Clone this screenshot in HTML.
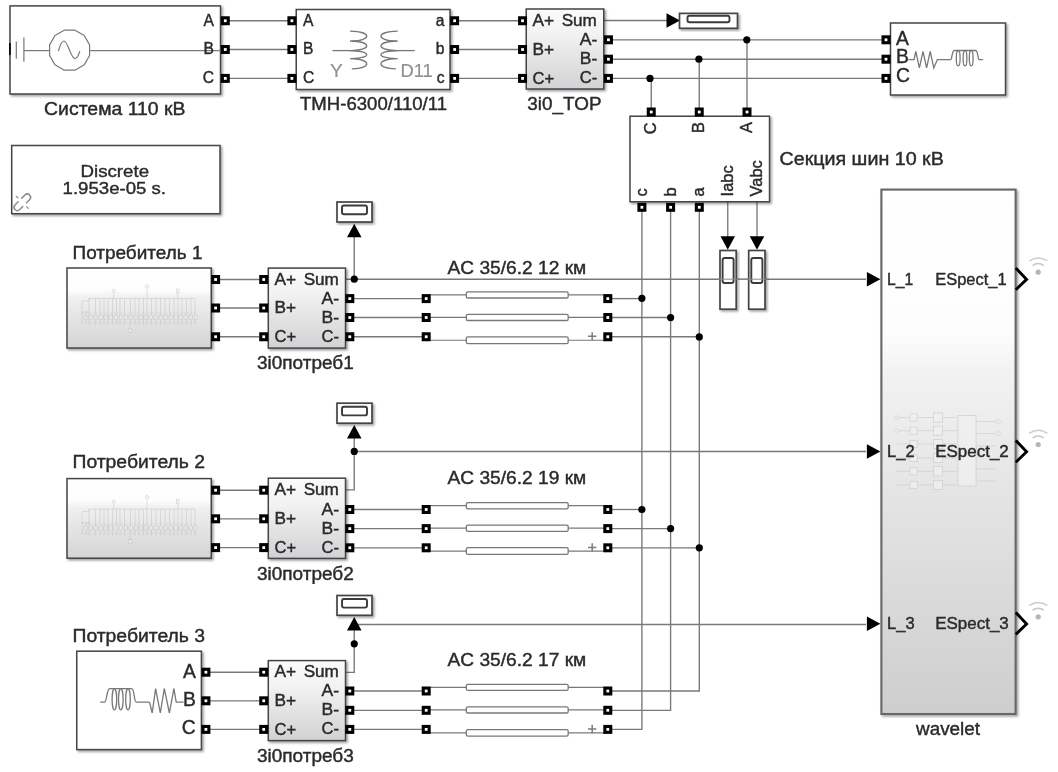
<!DOCTYPE html>
<html><head><meta charset="utf-8"><title>model</title>
<style>
html,body{margin:0;padding:0;background:#fff;}
svg{display:block;font-family:"Liberation Sans",sans-serif;}
</style></head><body>
<svg width="1058" height="772" viewBox="0 0 1058 772">
<defs>
<filter id="sh" x="-10%" y="-10%" width="130%" height="130%"><feDropShadow dx="1.6" dy="1.6" stdDeviation="1.3" flood-color="#000" flood-opacity="0.38"/></filter>
<linearGradient id="gsub" x1="0" y1="0" x2="0" y2="1"><stop offset="0" stop-color="#ffffff"/><stop offset="0.28" stop-color="#fdfdfd"/><stop offset="0.36" stop-color="#f0f0f0"/><stop offset="1" stop-color="#d4d4d4"/></linearGradient>
<linearGradient id="g3i0" x1="0" y1="0" x2="0" y2="1"><stop offset="0" stop-color="#fbfbfb"/><stop offset="0.3" stop-color="#f3f3f3"/><stop offset="1" stop-color="#d2d2d4"/></linearGradient>
<linearGradient id="gwav" x1="0" y1="0" x2="0" y2="1"><stop offset="0" stop-color="#ffffff"/><stop offset="0.27" stop-color="#fdfdfd"/><stop offset="0.35" stop-color="#f2f2f2"/><stop offset="0.62" stop-color="#e2e2e3"/><stop offset="1" stop-color="#cecece"/></linearGradient>
<filter id="soft" x="0" y="0" width="1058" height="772" filterUnits="userSpaceOnUse"><feGaussianBlur stdDeviation="0.42"/></filter>
</defs>
<rect width="1058" height="772" fill="#fff"/>
<g filter="url(#soft)">
<polyline points="229.00,20.75 288.00,20.75" fill="none" stroke="#787878" stroke-width="1.35"/>
<polyline points="459.00,20.75 518.00,20.75" fill="none" stroke="#787878" stroke-width="1.35"/>
<polyline points="229.00,49.50 288.00,49.50" fill="none" stroke="#787878" stroke-width="1.35"/>
<polyline points="459.00,49.50 518.00,49.50" fill="none" stroke="#787878" stroke-width="1.35"/>
<polyline points="229.00,78.40 288.00,78.40" fill="none" stroke="#787878" stroke-width="1.35"/>
<polyline points="459.00,78.40 518.00,78.40" fill="none" stroke="#787878" stroke-width="1.35"/>
<polyline points="604.00,20.50 668.00,20.50" fill="none" stroke="#787878" stroke-width="1.35"/>
<polyline points="612.00,39.80 882.00,39.80" fill="none" stroke="#787878" stroke-width="1.35"/>
<polyline points="612.00,59.20 882.00,59.20" fill="none" stroke="#787878" stroke-width="1.35"/>
<polyline points="612.00,78.40 882.00,78.40" fill="none" stroke="#787878" stroke-width="1.35"/>
<polyline points="651.25,78.40 651.25,108.00" fill="none" stroke="#787878" stroke-width="1.35"/>
<polyline points="699.25,59.20 699.25,108.00" fill="none" stroke="#787878" stroke-width="1.35"/>
<polyline points="747.00,39.80 747.00,108.00" fill="none" stroke="#787878" stroke-width="1.35"/>
<polyline points="641.90,211.00 641.90,729.40 612.00,729.40" fill="none" stroke="#787878" stroke-width="1.35"/>
<polyline points="670.60,211.00 670.60,710.30 612.00,710.30" fill="none" stroke="#787878" stroke-width="1.35"/>
<polyline points="699.30,211.00 699.30,691.00 612.00,691.00" fill="none" stroke="#787878" stroke-width="1.35"/>
<polyline points="727.75,202.00 727.75,238.00" fill="none" stroke="#787878" stroke-width="1.35"/>
<polyline points="757.00,202.00 757.00,238.00" fill="none" stroke="#787878" stroke-width="1.35"/>
<!-- wires done partially; rest below -->
<rect x="10" y="5.9" width="210.50" height="88.10" fill="#fff" stroke="#444448" stroke-width="1.5" filter="url(#sh)"/>
<rect x="9.0" y="43" width="1.9" height="12" fill="#111"/>
<polyline points="16.30,41.40 16.30,58.80" fill="none" stroke="#787878" stroke-width="1.2"/>
<polyline points="23.90,37.40 23.90,61.80" fill="none" stroke="#787878" stroke-width="1.2"/>
<polyline points="23.90,50.60 49.00,50.60" fill="none" stroke="#787878" stroke-width="1.2"/>
<polygon points="89.59,55.56 84.24,64.84 74.96,70.19 64.24,70.19 54.96,64.84 49.61,55.56 49.61,44.84 54.96,35.56 64.24,30.21 74.96,30.21 84.24,35.56 89.59,44.84" fill="none" stroke="#787878" stroke-width="1.2" stroke-linejoin="round"/>
<path d="M58.4,51 C60.2,44.5 62,41 63.9,41 C68,41 70.6,58.6 75,58.6 C77.3,58.6 78.7,55 79.8,51.2" fill="none" stroke="#787878" stroke-width="1.2"/>
<polyline points="90.20,50.60 221.00,50.60" fill="none" stroke="#787878" stroke-width="1.2"/>
<text x="214" y="25.5" font-size="15.6" text-anchor="end" fill="#2a2a2a" stroke="#2a2a2a" stroke-width="0.4">A</text>
<text x="214" y="53.9" font-size="15.6" text-anchor="end" fill="#2a2a2a" stroke="#2a2a2a" stroke-width="0.4">B</text>
<text x="214" y="82.6" font-size="15.6" text-anchor="end" fill="#2a2a2a" stroke="#2a2a2a" stroke-width="0.4">C</text>
<rect x="220.80" y="16.25" width="9" height="9" fill="#000"/><rect x="223.90" y="19.35" width="2.8" height="2.8" fill="#fff"/>
<rect x="220.80" y="45.00" width="9" height="9" fill="#000"/><rect x="223.90" y="48.10" width="2.8" height="2.8" fill="#fff"/>
<rect x="220.80" y="73.90" width="9" height="9" fill="#000"/><rect x="223.90" y="77.00" width="2.8" height="2.8" fill="#fff"/>
<text x="44.1" y="114.7" font-size="17.6" text-anchor="start" fill="#2a2a2a" stroke="#2a2a2a" stroke-width="0.4" textLength="141.4" lengthAdjust="spacingAndGlyphs">Система 110 кВ</text>
<rect x="296.25" y="9.5" width="153.75" height="80.00" fill="#fff" stroke="#444448" stroke-width="1.5" filter="url(#sh)"/>
<text x="303" y="25.5" font-size="15.6" text-anchor="start" fill="#2a2a2a" stroke="#2a2a2a" stroke-width="0.4">A</text>
<text x="303" y="54" font-size="15.6" text-anchor="start" fill="#2a2a2a" stroke="#2a2a2a" stroke-width="0.4">B</text>
<text x="303" y="82.6" font-size="15.6" text-anchor="start" fill="#2a2a2a" stroke="#2a2a2a" stroke-width="0.4">C</text>
<text x="444.5" y="25.5" font-size="15.6" text-anchor="end" fill="#2a2a2a" stroke="#2a2a2a" stroke-width="0.4">a</text>
<text x="444.5" y="54" font-size="15.6" text-anchor="end" fill="#2a2a2a" stroke="#2a2a2a" stroke-width="0.4">b</text>
<text x="444.5" y="82.6" font-size="15.6" text-anchor="end" fill="#2a2a2a" stroke="#2a2a2a" stroke-width="0.4">c</text>
<rect x="287.40" y="16.25" width="9" height="9" fill="#000"/><rect x="290.50" y="19.35" width="2.8" height="2.8" fill="#fff"/>
<rect x="450.10" y="16.25" width="9" height="9" fill="#000"/><rect x="453.20" y="19.35" width="2.8" height="2.8" fill="#fff"/>
<rect x="287.40" y="45.00" width="9" height="9" fill="#000"/><rect x="290.50" y="48.10" width="2.8" height="2.8" fill="#fff"/>
<rect x="450.10" y="45.00" width="9" height="9" fill="#000"/><rect x="453.20" y="48.10" width="2.8" height="2.8" fill="#fff"/>
<rect x="287.40" y="73.90" width="9" height="9" fill="#000"/><rect x="290.50" y="77.00" width="2.8" height="2.8" fill="#fff"/>
<rect x="450.10" y="73.90" width="9" height="9" fill="#000"/><rect x="453.20" y="77.00" width="2.8" height="2.8" fill="#fff"/>
<text x="329.9" y="76.9" font-size="19.2" text-anchor="start" fill="#8f8f8f" stroke="#8f8f8f" stroke-width="0.15">Y</text>
<text x="400.6" y="76.9" font-size="18.4" text-anchor="start" fill="#8f8f8f" stroke="#8f8f8f" stroke-width="0.15" textLength="32.2" lengthAdjust="spacingAndGlyphs">D11</text>
<path d="M350.0,31.1 C372.0,31.6 372.0,40.5 351.8,41.0 M350.0,41.0 C372.0,41.5 372.0,50.1 351.8,50.6 M350.0,50.6 C372.0,51.1 372.0,58.1 351.8,58.6 M350.0,58.6 C372.0,59.1 372.0,68.3 351.8,68.8 " fill="none" stroke="#787878" stroke-width="1.3"/>
<path d="M397.7,31.1 C375.7,31.6 375.7,40.5 395.9,41.0 M397.7,41.0 C375.7,41.5 375.7,50.1 395.9,50.6 M397.7,50.6 C375.7,51.1 375.7,58.1 395.9,58.6 M397.7,58.6 C375.7,59.1 375.7,68.3 395.9,68.8 " fill="none" stroke="#787878" stroke-width="1.3"/>
<polyline points="332.50,50.60 358.00,50.60" fill="none" stroke="#787878" stroke-width="1.3"/>
<polyline points="390.00,50.60 414.70,50.60" fill="none" stroke="#787878" stroke-width="1.3"/>
<text x="300" y="110.3" font-size="17.6" text-anchor="start" fill="#2a2a2a" stroke="#2a2a2a" stroke-width="0.4" textLength="147" lengthAdjust="spacingAndGlyphs">ТМН-6300/110/11</text>
<rect x="526.25" y="9" width="77.50" height="80.00" fill="url(#g3i0)" stroke="#444448" stroke-width="1.5" filter="url(#sh)"/>
<rect x="518.05" y="16.25" width="9" height="9" fill="#000"/><rect x="521.15" y="19.35" width="2.8" height="2.8" fill="#fff"/>
<text x="532.45" y="25.95" font-size="15.6" text-anchor="start" fill="#2a2a2a" stroke="#2a2a2a" stroke-width="0.4" textLength="21.6" lengthAdjust="spacingAndGlyphs">A+</text>
<rect x="518.05" y="45.00" width="9" height="9" fill="#000"/><rect x="521.15" y="48.10" width="2.8" height="2.8" fill="#fff"/>
<text x="532.45" y="54.7" font-size="15.6" text-anchor="start" fill="#2a2a2a" stroke="#2a2a2a" stroke-width="0.4" textLength="21.6" lengthAdjust="spacingAndGlyphs">B+</text>
<rect x="518.05" y="73.90" width="9" height="9" fill="#000"/><rect x="521.15" y="77.00" width="2.8" height="2.8" fill="#fff"/>
<text x="532.45" y="83.60000000000001" font-size="15.6" text-anchor="start" fill="#2a2a2a" stroke="#2a2a2a" stroke-width="0.4" textLength="21.6" lengthAdjust="spacingAndGlyphs">C+</text>
<text x="561.65" y="25.95" font-size="15.6" text-anchor="start" fill="#2a2a2a" stroke="#2a2a2a" stroke-width="0.4" textLength="35.2" lengthAdjust="spacingAndGlyphs">Sum</text>
<rect x="603.95" y="35.30" width="9" height="9" fill="#000"/><rect x="607.05" y="38.40" width="2.8" height="2.8" fill="#fff"/>
<text x="597.35" y="44.8" font-size="15.6" text-anchor="end" fill="#2a2a2a" stroke="#2a2a2a" stroke-width="0.4" textLength="17.5" lengthAdjust="spacingAndGlyphs">A-</text>
<rect x="603.95" y="54.70" width="9" height="9" fill="#000"/><rect x="607.05" y="57.80" width="2.8" height="2.8" fill="#fff"/>
<text x="597.35" y="64.2" font-size="15.6" text-anchor="end" fill="#2a2a2a" stroke="#2a2a2a" stroke-width="0.4" textLength="17.5" lengthAdjust="spacingAndGlyphs">B-</text>
<rect x="603.95" y="73.90" width="9" height="9" fill="#000"/><rect x="607.05" y="77.00" width="2.8" height="2.8" fill="#fff"/>
<text x="597.35" y="83.4" font-size="15.6" text-anchor="end" fill="#2a2a2a" stroke="#2a2a2a" stroke-width="0.4" textLength="17.5" lengthAdjust="spacingAndGlyphs">C-</text>
<text x="527.3" y="110.2" font-size="17.6" text-anchor="start" fill="#2a2a2a" stroke="#2a2a2a" stroke-width="0.4" textLength="74.2" lengthAdjust="spacingAndGlyphs">3i0_TOP</text>
<polygon points="680,20.5 666.5,13.25 666.5,27.75" fill="#000"/>
<rect x="679.5" y="13.4" width="58.00" height="14.90" fill="#fff" stroke="#444448" stroke-width="1.7" filter="url(#sh)"/>
<rect x="687.5" y="15.7" width="42.00" height="6.50" rx="2" fill="#fff" stroke="#3a3a3a" stroke-width="1.9"/>
<circle cx="650.00" cy="78.40" r="3.6" fill="#000"/>
<circle cx="698.90" cy="59.20" r="3.6" fill="#000"/>
<circle cx="746.80" cy="39.80" r="3.6" fill="#000"/>
<rect x="890.5" y="23" width="115.00" height="72.00" fill="#fff" stroke="#444448" stroke-width="1.5" filter="url(#sh)"/>
<rect x="881.50" y="35.30" width="9" height="9" fill="#000"/><rect x="884.60" y="38.40" width="2.8" height="2.8" fill="#fff"/>
<rect x="881.50" y="54.70" width="9" height="9" fill="#000"/><rect x="884.60" y="57.80" width="2.8" height="2.8" fill="#fff"/>
<rect x="881.50" y="73.90" width="9" height="9" fill="#000"/><rect x="884.60" y="77.00" width="2.8" height="2.8" fill="#fff"/>
<text x="896.0" y="44.6" font-size="19.3" text-anchor="start" fill="#2a2a2a" stroke="#2a2a2a" stroke-width="0.4">A</text>
<text x="896.0" y="63.2" font-size="19.3" text-anchor="start" fill="#2a2a2a" stroke="#2a2a2a" stroke-width="0.4">B</text>
<text x="896.0" y="82" font-size="19.3" text-anchor="start" fill="#2a2a2a" stroke="#2a2a2a" stroke-width="0.4">C</text>
<polyline points="908.30,59.60 914.00,59.60 915.80,51.30 919.40,67.90 923.00,51.30 926.60,67.90 930.20,51.30 933.80,67.90 937.40,59.60 950.80,59.60" fill="none" stroke="#787878" stroke-width="1.3"/>
<path d="M950.8,59.6 C952,59.6 951.8,50.5 954.5,50.5 L975.5,50.5 C978.2,50.5 977.8,59.6 979,59.6 L983.1,59.6" fill="none" stroke="#787878" stroke-width="1.3"/>
<ellipse cx="958.2" cy="58.2" rx="1.9" ry="7.7" fill="none" stroke="#787878" stroke-width="1.3"/>
<ellipse cx="965" cy="58.2" rx="1.9" ry="7.7" fill="none" stroke="#787878" stroke-width="1.3"/>
<ellipse cx="971.2" cy="58.2" rx="1.9" ry="7.7" fill="none" stroke="#787878" stroke-width="1.3"/>
<rect x="630" y="116.25" width="139.50" height="85.50" fill="#fff" stroke="#444448" stroke-width="1.5" filter="url(#sh)"/>
<rect x="646.75" y="107.50" width="9" height="9" fill="#000"/><rect x="649.85" y="110.60" width="2.8" height="2.8" fill="#fff"/>
<rect x="694.75" y="107.50" width="9" height="9" fill="#000"/><rect x="697.85" y="110.60" width="2.8" height="2.8" fill="#fff"/>
<rect x="742.50" y="107.50" width="9" height="9" fill="#000"/><rect x="745.60" y="110.60" width="2.8" height="2.8" fill="#fff"/>
<rect x="637.40" y="202.80" width="9" height="9" fill="#000"/><rect x="640.50" y="205.90" width="2.8" height="2.8" fill="#fff"/>
<rect x="666.10" y="202.80" width="9" height="9" fill="#000"/><rect x="669.20" y="205.90" width="2.8" height="2.8" fill="#fff"/>
<rect x="694.80" y="202.80" width="9" height="9" fill="#000"/><rect x="697.90" y="205.90" width="2.8" height="2.8" fill="#fff"/>
<text transform="translate(656.4,134.2) rotate(-90)" font-size="16.4" fill="#2a2a2a" stroke="#2a2a2a" stroke-width="0.45">C</text>
<text transform="translate(704.2,133) rotate(-90)" font-size="16.4" fill="#2a2a2a" stroke="#2a2a2a" stroke-width="0.45">B</text>
<text transform="translate(752.2,133) rotate(-90)" font-size="16.4" fill="#2a2a2a" stroke="#2a2a2a" stroke-width="0.45">A</text>
<text transform="translate(646.8,196.5) rotate(-90)" font-size="16.4" fill="#2a2a2a" stroke="#2a2a2a" stroke-width="0.45">c</text>
<text transform="translate(675.6,196.5) rotate(-90)" font-size="16.4" fill="#2a2a2a" stroke="#2a2a2a" stroke-width="0.45">b</text>
<text transform="translate(703.9,196.5) rotate(-90)" font-size="16.4" fill="#2a2a2a" stroke="#2a2a2a" stroke-width="0.45">a</text>
<text transform="translate(732.5,196.4) rotate(-90)" font-size="16.4" fill="#2a2a2a" stroke="#2a2a2a" stroke-width="0.45">Iabc</text>
<text transform="translate(762,196.4) rotate(-90)" font-size="16.4" fill="#2a2a2a" stroke="#2a2a2a" stroke-width="0.45">Vabc</text>
<text x="779.5" y="165.3" font-size="17.6" text-anchor="start" fill="#2a2a2a" stroke="#2a2a2a" stroke-width="0.4" textLength="164.3" lengthAdjust="spacingAndGlyphs">Секция шин 10 кВ</text>
<polygon points="727.75,249.8 720.5,236.3 735.0,236.3" fill="#000"/>
<polygon points="757,249.8 749.75,236.3 764.25,236.3" fill="#000"/>
<rect x="11.7" y="145.5" width="208.30" height="68.20" fill="#fff" stroke="#444448" stroke-width="1.5" filter="url(#sh)"/>
<text x="114.8" y="176.5" font-size="17.4" text-anchor="middle" fill="#2a2a2a" stroke="#2a2a2a" stroke-width="0.4" textLength="68.6" lengthAdjust="spacingAndGlyphs">Discrete</text>
<text x="114.3" y="193.7" font-size="17.4" text-anchor="middle" fill="#2a2a2a" stroke="#2a2a2a" stroke-width="0.4" textLength="103.5" lengthAdjust="spacingAndGlyphs">1.953e-05 s.</text>
<g transform="translate(22.3,202.3) rotate(-45)" fill="none" stroke="#8c8c8c" stroke-width="1.5" stroke-linecap="round"><path d="M-2.6,-3.3 L-7,-3.3 A3.3,3.3 0 0 0 -7,3.3 L-2.6,3.3"/><path d="M2.6,-3.3 L7,-3.3 A3.3,3.3 0 0 1 7,3.3 L2.6,3.3"/><path d="M0,-6.2 L0,-8.6 M0,6.2 L0,8.6" stroke-width="1.2"/></g>
<polyline points="220.00,279.50 259.00,279.50" fill="none" stroke="#787878" stroke-width="1.35"/>
<polyline points="220.00,308.00 259.00,308.00" fill="none" stroke="#787878" stroke-width="1.35"/>
<polyline points="220.00,336.75 259.00,336.75" fill="none" stroke="#787878" stroke-width="1.35"/>
<polyline points="353.00,298.60 422.00,298.60" fill="none" stroke="#787878" stroke-width="1.35"/>
<polyline points="353.00,317.50 422.00,317.50" fill="none" stroke="#787878" stroke-width="1.35"/>
<polyline points="353.00,336.75 422.00,336.75" fill="none" stroke="#787878" stroke-width="1.35"/>
<rect x="67" y="268" width="144.25" height="80.00" fill="url(#gsub)" stroke="#444448" stroke-width="1.5" filter="url(#sh)"/>
<g stroke="#b9b9b9" stroke-width="0.7" fill="none" opacity="0.6" transform="translate(0,0)"><path d="M82,301 H89 V298.5 H195 M82,301 V324 M86,312 V324 M82,312 H90"/><path d="M89,298.5 V325 M95.5,298.5 V325 M100,298.5 V325 M104,298.5 V325 M108,298.5 V325 M112.5,298.5 V325 M116.5,298.5 V325 M120,298.5 V325 M124.5,298.5 V325 M130.5,298.5 V325 M135,298.5 V325 M139,298.5 V325 M143.5,298.5 V325 M147,298.5 V325 M151.5,298.5 V325 M156,298.5 V325 M160.5,298.5 V325 M165,298.5 V325 M169.5,298.5 V325 M174,298.5 V325 M178,298.5 V325 M182,298.5 V325 M186.5,298.5 V325 M191,298.5 V325 M195,298.5 V325 "/><path d="M82,313 H196 M82,322.5 H196" stroke-dasharray="2 1.5" opacity="0.7"/><rect x="84" y="315" width="3.6" height="4.6" rx="1" fill="#e9e9e9"/><rect x="89" y="315" width="3.6" height="4.6" rx="1" fill="#e9e9e9"/><rect x="94" y="315" width="3.6" height="4.6" rx="1" fill="#e9e9e9"/><rect x="99" y="315" width="3.6" height="4.6" rx="1" fill="#e9e9e9"/><rect x="104" y="315" width="3.6" height="4.6" rx="1" fill="#e9e9e9"/><rect x="109" y="315" width="3.6" height="4.6" rx="1" fill="#e9e9e9"/><rect x="114" y="315" width="3.6" height="4.6" rx="1" fill="#e9e9e9"/><rect x="119" y="315" width="3.6" height="4.6" rx="1" fill="#e9e9e9"/><rect x="124" y="315" width="3.6" height="4.6" rx="1" fill="#e9e9e9"/><rect x="129" y="315" width="3.6" height="4.6" rx="1" fill="#e9e9e9"/><rect x="134" y="315" width="3.6" height="4.6" rx="1" fill="#e9e9e9"/><rect x="139" y="315" width="3.6" height="4.6" rx="1" fill="#e9e9e9"/><rect x="144" y="315" width="3.6" height="4.6" rx="1" fill="#e9e9e9"/><rect x="149" y="315" width="3.6" height="4.6" rx="1" fill="#e9e9e9"/><rect x="154" y="315" width="3.6" height="4.6" rx="1" fill="#e9e9e9"/><rect x="159" y="315" width="3.6" height="4.6" rx="1" fill="#e9e9e9"/><rect x="164" y="315" width="3.6" height="4.6" rx="1" fill="#e9e9e9"/><rect x="169" y="315" width="3.6" height="4.6" rx="1" fill="#e9e9e9"/><rect x="174" y="315" width="3.6" height="4.6" rx="1" fill="#e9e9e9"/><rect x="179" y="315" width="3.6" height="4.6" rx="1" fill="#e9e9e9"/><rect x="184" y="315" width="3.6" height="4.6" rx="1" fill="#e9e9e9"/><rect x="189" y="315" width="3.6" height="4.6" rx="1" fill="#e9e9e9"/><rect x="194" y="315" width="3.6" height="4.6" rx="1" fill="#e9e9e9"/><path d="M113.7,293 V298.5 M147,289 V298.5 M177.8,293 V298.5 M130,325 V329"/><circle cx="113.7" cy="291" r="1.7" fill="#f4f4f4"/><circle cx="147" cy="286.6" r="1.7" fill="#f4f4f4"/><rect x="176.6" y="289" width="2.4" height="4" fill="#f4f4f4"/><rect x="128.2" y="329" width="3.6" height="3.4" fill="#fafafa"/></g>
<rect x="211.10" y="275.00" width="9" height="9" fill="#000"/><rect x="214.20" y="278.10" width="2.8" height="2.8" fill="#fff"/>
<rect x="211.10" y="303.50" width="9" height="9" fill="#000"/><rect x="214.20" y="306.60" width="2.8" height="2.8" fill="#fff"/>
<rect x="211.10" y="332.25" width="9" height="9" fill="#000"/><rect x="214.20" y="335.35" width="2.8" height="2.8" fill="#fff"/>
<text x="72.5" y="258.8" font-size="17.6" text-anchor="start" fill="#2a2a2a" stroke="#2a2a2a" stroke-width="0.4" textLength="130" lengthAdjust="spacingAndGlyphs">Потребитель 1</text>
<polyline points="346.00,279.20 866.00,279.20" fill="none" stroke="#787878" stroke-width="1.35"/>
<polyline points="354.25,279.20 354.25,236.00" fill="none" stroke="#787878" stroke-width="1.35"/>
<rect x="268.3" y="268.1" width="77.20" height="80.00" fill="url(#g3i0)" stroke="#444448" stroke-width="1.5" filter="url(#sh)"/>
<rect x="259.20" y="275.00" width="9" height="9" fill="#000"/><rect x="262.30" y="278.10" width="2.8" height="2.8" fill="#fff"/>
<text x="274.5" y="284.7" font-size="15.6" text-anchor="start" fill="#2a2a2a" stroke="#2a2a2a" stroke-width="0.4" textLength="21.6" lengthAdjust="spacingAndGlyphs">A+</text>
<rect x="259.20" y="303.50" width="9" height="9" fill="#000"/><rect x="262.30" y="306.60" width="2.8" height="2.8" fill="#fff"/>
<text x="274.5" y="313.2" font-size="15.6" text-anchor="start" fill="#2a2a2a" stroke="#2a2a2a" stroke-width="0.4" textLength="21.6" lengthAdjust="spacingAndGlyphs">B+</text>
<rect x="259.20" y="332.25" width="9" height="9" fill="#000"/><rect x="262.30" y="335.35" width="2.8" height="2.8" fill="#fff"/>
<text x="274.5" y="341.95" font-size="15.6" text-anchor="start" fill="#2a2a2a" stroke="#2a2a2a" stroke-width="0.4" textLength="21.6" lengthAdjust="spacingAndGlyphs">C+</text>
<text x="303.7" y="284.7" font-size="15.6" text-anchor="start" fill="#2a2a2a" stroke="#2a2a2a" stroke-width="0.4" textLength="35.2" lengthAdjust="spacingAndGlyphs">Sum</text>
<rect x="345.30" y="294.10" width="9" height="9" fill="#000"/><rect x="348.40" y="297.20" width="2.8" height="2.8" fill="#fff"/>
<text x="339.1" y="303.6" font-size="15.6" text-anchor="end" fill="#2a2a2a" stroke="#2a2a2a" stroke-width="0.4" textLength="17.5" lengthAdjust="spacingAndGlyphs">A-</text>
<rect x="345.30" y="313.00" width="9" height="9" fill="#000"/><rect x="348.40" y="316.10" width="2.8" height="2.8" fill="#fff"/>
<text x="339.1" y="322.5" font-size="15.6" text-anchor="end" fill="#2a2a2a" stroke="#2a2a2a" stroke-width="0.4" textLength="17.5" lengthAdjust="spacingAndGlyphs">B-</text>
<rect x="345.30" y="332.25" width="9" height="9" fill="#000"/><rect x="348.40" y="335.35" width="2.8" height="2.8" fill="#fff"/>
<text x="339.1" y="341.75" font-size="15.6" text-anchor="end" fill="#2a2a2a" stroke="#2a2a2a" stroke-width="0.4" textLength="17.5" lengthAdjust="spacingAndGlyphs">C-</text>
<text x="257" y="368.8" font-size="17.6" text-anchor="start" fill="#2a2a2a" stroke="#2a2a2a" stroke-width="0.4" textLength="96.75" lengthAdjust="spacingAndGlyphs">3i0потреб1</text>
<circle cx="354.25" cy="279.20" r="3.6" fill="#000"/>
<polygon points="354.25,223.7 347.0,237.2 361.5,237.2" fill="#000"/>
<rect x="337" y="202" width="35.00" height="20.00" fill="#fff" stroke="#444448" stroke-width="1.7" filter="url(#sh)"/>
<rect x="342" y="205.5" width="25.00" height="8.70" rx="2" fill="#fff" stroke="#3a3a3a" stroke-width="1.9"/>
<polyline points="612.00,298.60 641.90,298.60" fill="none" stroke="#787878" stroke-width="1.35"/>
<polyline points="612.00,317.50 670.60,317.50" fill="none" stroke="#787878" stroke-width="1.35"/>
<polyline points="612.00,336.75 699.30,336.75" fill="none" stroke="#787878" stroke-width="1.35"/>
<polyline points="430.00,294.90 466.30,294.90" fill="none" stroke="#787878" stroke-width="1.2"/>
<polyline points="568.20,294.90 604.00,294.90" fill="none" stroke="#787878" stroke-width="1.2"/>
<rect x="466.3" y="291.8" width="101.9" height="6.20" rx="1.6" fill="#fff" stroke="#787878" stroke-width="1.3"/>
<rect x="421.70" y="294.10" width="9" height="9" fill="#000"/><rect x="424.80" y="297.20" width="2.8" height="2.8" fill="#fff"/>
<rect x="603.30" y="294.10" width="9" height="9" fill="#000"/><rect x="606.40" y="297.20" width="2.8" height="2.8" fill="#fff"/>
<polyline points="430.00,317.40 466.30,317.40" fill="none" stroke="#787878" stroke-width="1.2"/>
<polyline points="568.20,317.40 604.00,317.40" fill="none" stroke="#787878" stroke-width="1.2"/>
<rect x="466.3" y="314.3" width="101.9" height="6.20" rx="1.6" fill="#fff" stroke="#787878" stroke-width="1.3"/>
<rect x="421.70" y="313.00" width="9" height="9" fill="#000"/><rect x="424.80" y="316.10" width="2.8" height="2.8" fill="#fff"/>
<rect x="603.30" y="313.00" width="9" height="9" fill="#000"/><rect x="606.40" y="316.10" width="2.8" height="2.8" fill="#fff"/>
<polyline points="430.00,340.25 466.30,340.25" fill="none" stroke="#787878" stroke-width="1.2"/>
<polyline points="568.20,340.25 604.00,340.25" fill="none" stroke="#787878" stroke-width="1.2"/>
<rect x="466.3" y="336.9" width="101.9" height="6.70" rx="1.6" fill="#fff" stroke="#787878" stroke-width="1.3"/>
<rect x="421.70" y="332.25" width="9" height="9" fill="#000"/><rect x="424.80" y="335.35" width="2.8" height="2.8" fill="#fff"/>
<rect x="603.30" y="332.25" width="9" height="9" fill="#000"/><rect x="606.40" y="335.35" width="2.8" height="2.8" fill="#fff"/>
<path d="M588.0,336.35 H596.4 M592.2,332.15 V340.55" stroke="#7c7c7c" stroke-width="1.5" fill="none"/>
<text x="447.5" y="274.0" font-size="17.6" text-anchor="start" fill="#2a2a2a" stroke="#2a2a2a" stroke-width="0.4" textLength="138.75" lengthAdjust="spacingAndGlyphs">AC 35/6.2 12 км</text>
<circle cx="641.90" cy="298.30" r="3.6" fill="#000"/>
<circle cx="670.60" cy="317.60" r="3.6" fill="#000"/>
<circle cx="699.30" cy="336.90" r="3.6" fill="#000"/>
<polyline points="220.00,490.20 259.00,490.20" fill="none" stroke="#787878" stroke-width="1.35"/>
<polyline points="220.00,518.80 259.00,518.80" fill="none" stroke="#787878" stroke-width="1.35"/>
<polyline points="220.00,547.60 259.00,547.60" fill="none" stroke="#787878" stroke-width="1.35"/>
<polyline points="353.00,509.50 422.00,509.50" fill="none" stroke="#787878" stroke-width="1.35"/>
<polyline points="353.00,528.60 422.00,528.60" fill="none" stroke="#787878" stroke-width="1.35"/>
<polyline points="353.00,547.80 422.00,547.80" fill="none" stroke="#787878" stroke-width="1.35"/>
<rect x="67" y="478.6" width="144.25" height="79.60" fill="url(#gsub)" stroke="#444448" stroke-width="1.5" filter="url(#sh)"/>
<g stroke="#b9b9b9" stroke-width="0.7" fill="none" opacity="0.6" transform="translate(0,210.60000000000002)"><path d="M82,301 H89 V298.5 H195 M82,301 V324 M86,312 V324 M82,312 H90"/><path d="M89,298.5 V325 M95.5,298.5 V325 M100,298.5 V325 M104,298.5 V325 M108,298.5 V325 M112.5,298.5 V325 M116.5,298.5 V325 M120,298.5 V325 M124.5,298.5 V325 M130.5,298.5 V325 M135,298.5 V325 M139,298.5 V325 M143.5,298.5 V325 M147,298.5 V325 M151.5,298.5 V325 M156,298.5 V325 M160.5,298.5 V325 M165,298.5 V325 M169.5,298.5 V325 M174,298.5 V325 M178,298.5 V325 M182,298.5 V325 M186.5,298.5 V325 M191,298.5 V325 M195,298.5 V325 "/><path d="M82,313 H196 M82,322.5 H196" stroke-dasharray="2 1.5" opacity="0.7"/><rect x="84" y="315" width="3.6" height="4.6" rx="1" fill="#e9e9e9"/><rect x="89" y="315" width="3.6" height="4.6" rx="1" fill="#e9e9e9"/><rect x="94" y="315" width="3.6" height="4.6" rx="1" fill="#e9e9e9"/><rect x="99" y="315" width="3.6" height="4.6" rx="1" fill="#e9e9e9"/><rect x="104" y="315" width="3.6" height="4.6" rx="1" fill="#e9e9e9"/><rect x="109" y="315" width="3.6" height="4.6" rx="1" fill="#e9e9e9"/><rect x="114" y="315" width="3.6" height="4.6" rx="1" fill="#e9e9e9"/><rect x="119" y="315" width="3.6" height="4.6" rx="1" fill="#e9e9e9"/><rect x="124" y="315" width="3.6" height="4.6" rx="1" fill="#e9e9e9"/><rect x="129" y="315" width="3.6" height="4.6" rx="1" fill="#e9e9e9"/><rect x="134" y="315" width="3.6" height="4.6" rx="1" fill="#e9e9e9"/><rect x="139" y="315" width="3.6" height="4.6" rx="1" fill="#e9e9e9"/><rect x="144" y="315" width="3.6" height="4.6" rx="1" fill="#e9e9e9"/><rect x="149" y="315" width="3.6" height="4.6" rx="1" fill="#e9e9e9"/><rect x="154" y="315" width="3.6" height="4.6" rx="1" fill="#e9e9e9"/><rect x="159" y="315" width="3.6" height="4.6" rx="1" fill="#e9e9e9"/><rect x="164" y="315" width="3.6" height="4.6" rx="1" fill="#e9e9e9"/><rect x="169" y="315" width="3.6" height="4.6" rx="1" fill="#e9e9e9"/><rect x="174" y="315" width="3.6" height="4.6" rx="1" fill="#e9e9e9"/><rect x="179" y="315" width="3.6" height="4.6" rx="1" fill="#e9e9e9"/><rect x="184" y="315" width="3.6" height="4.6" rx="1" fill="#e9e9e9"/><rect x="189" y="315" width="3.6" height="4.6" rx="1" fill="#e9e9e9"/><rect x="194" y="315" width="3.6" height="4.6" rx="1" fill="#e9e9e9"/><path d="M113.7,293 V298.5 M147,289 V298.5 M177.8,293 V298.5 M130,325 V329"/><circle cx="113.7" cy="291" r="1.7" fill="#f4f4f4"/><circle cx="147" cy="286.6" r="1.7" fill="#f4f4f4"/><rect x="176.6" y="289" width="2.4" height="4" fill="#f4f4f4"/><rect x="128.2" y="329" width="3.6" height="3.4" fill="#fafafa"/></g>
<rect x="211.10" y="485.70" width="9" height="9" fill="#000"/><rect x="214.20" y="488.80" width="2.8" height="2.8" fill="#fff"/>
<rect x="211.10" y="514.30" width="9" height="9" fill="#000"/><rect x="214.20" y="517.40" width="2.8" height="2.8" fill="#fff"/>
<rect x="211.10" y="543.10" width="9" height="9" fill="#000"/><rect x="214.20" y="546.20" width="2.8" height="2.8" fill="#fff"/>
<text x="72.5" y="468.3" font-size="17.6" text-anchor="start" fill="#2a2a2a" stroke="#2a2a2a" stroke-width="0.4" textLength="132.5" lengthAdjust="spacingAndGlyphs">Потребитель 2</text>
<polyline points="346.00,489.80 354.25,489.80 354.25,437.00" fill="none" stroke="#787878" stroke-width="1.35"/>
<polyline points="354.25,451.50 866.00,451.50" fill="none" stroke="#787878" stroke-width="1.35"/>
<rect x="268.3" y="478.2" width="77.20" height="80.20" fill="url(#g3i0)" stroke="#444448" stroke-width="1.5" filter="url(#sh)"/>
<rect x="259.20" y="485.70" width="9" height="9" fill="#000"/><rect x="262.30" y="488.80" width="2.8" height="2.8" fill="#fff"/>
<text x="274.5" y="495.4" font-size="15.6" text-anchor="start" fill="#2a2a2a" stroke="#2a2a2a" stroke-width="0.4" textLength="21.6" lengthAdjust="spacingAndGlyphs">A+</text>
<rect x="259.20" y="514.30" width="9" height="9" fill="#000"/><rect x="262.30" y="517.40" width="2.8" height="2.8" fill="#fff"/>
<text x="274.5" y="524.0" font-size="15.6" text-anchor="start" fill="#2a2a2a" stroke="#2a2a2a" stroke-width="0.4" textLength="21.6" lengthAdjust="spacingAndGlyphs">B+</text>
<rect x="259.20" y="543.10" width="9" height="9" fill="#000"/><rect x="262.30" y="546.20" width="2.8" height="2.8" fill="#fff"/>
<text x="274.5" y="552.8000000000001" font-size="15.6" text-anchor="start" fill="#2a2a2a" stroke="#2a2a2a" stroke-width="0.4" textLength="21.6" lengthAdjust="spacingAndGlyphs">C+</text>
<text x="303.7" y="495.4" font-size="15.6" text-anchor="start" fill="#2a2a2a" stroke="#2a2a2a" stroke-width="0.4" textLength="35.2" lengthAdjust="spacingAndGlyphs">Sum</text>
<rect x="345.30" y="505.00" width="9" height="9" fill="#000"/><rect x="348.40" y="508.10" width="2.8" height="2.8" fill="#fff"/>
<text x="339.1" y="514.5" font-size="15.6" text-anchor="end" fill="#2a2a2a" stroke="#2a2a2a" stroke-width="0.4" textLength="17.5" lengthAdjust="spacingAndGlyphs">A-</text>
<rect x="345.30" y="524.10" width="9" height="9" fill="#000"/><rect x="348.40" y="527.20" width="2.8" height="2.8" fill="#fff"/>
<text x="339.1" y="533.6" font-size="15.6" text-anchor="end" fill="#2a2a2a" stroke="#2a2a2a" stroke-width="0.4" textLength="17.5" lengthAdjust="spacingAndGlyphs">B-</text>
<rect x="345.30" y="543.30" width="9" height="9" fill="#000"/><rect x="348.40" y="546.40" width="2.8" height="2.8" fill="#fff"/>
<text x="339.1" y="552.8" font-size="15.6" text-anchor="end" fill="#2a2a2a" stroke="#2a2a2a" stroke-width="0.4" textLength="17.5" lengthAdjust="spacingAndGlyphs">C-</text>
<text x="257" y="579.6" font-size="17.6" text-anchor="start" fill="#2a2a2a" stroke="#2a2a2a" stroke-width="0.4" textLength="96.75" lengthAdjust="spacingAndGlyphs">3i0потреб2</text>
<circle cx="354.25" cy="451.40" r="3.6" fill="#000"/>
<polygon points="354.25,425 347.0,438.5 361.5,438.5" fill="#000"/>
<rect x="337" y="403.2" width="35.00" height="20.00" fill="#fff" stroke="#444448" stroke-width="1.7" filter="url(#sh)"/>
<rect x="342" y="406.7" width="25.00" height="8.70" rx="2" fill="#fff" stroke="#3a3a3a" stroke-width="1.9"/>
<polyline points="612.00,509.50 641.90,509.50" fill="none" stroke="#787878" stroke-width="1.35"/>
<polyline points="612.00,528.60 670.60,528.60" fill="none" stroke="#787878" stroke-width="1.35"/>
<polyline points="612.00,547.80 699.30,547.80" fill="none" stroke="#787878" stroke-width="1.35"/>
<polyline points="430.00,505.70 466.30,505.70" fill="none" stroke="#787878" stroke-width="1.2"/>
<polyline points="568.20,505.70 604.00,505.70" fill="none" stroke="#787878" stroke-width="1.2"/>
<rect x="466.3" y="502.6" width="101.9" height="6.20" rx="1.6" fill="#fff" stroke="#787878" stroke-width="1.3"/>
<rect x="421.70" y="505.00" width="9" height="9" fill="#000"/><rect x="424.80" y="508.10" width="2.8" height="2.8" fill="#fff"/>
<rect x="603.30" y="505.00" width="9" height="9" fill="#000"/><rect x="606.40" y="508.10" width="2.8" height="2.8" fill="#fff"/>
<polyline points="430.00,528.20 466.30,528.20" fill="none" stroke="#787878" stroke-width="1.2"/>
<polyline points="568.20,528.20 604.00,528.20" fill="none" stroke="#787878" stroke-width="1.2"/>
<rect x="466.3" y="525.1" width="101.9" height="6.20" rx="1.6" fill="#fff" stroke="#787878" stroke-width="1.3"/>
<rect x="421.70" y="524.10" width="9" height="9" fill="#000"/><rect x="424.80" y="527.20" width="2.8" height="2.8" fill="#fff"/>
<rect x="603.30" y="524.10" width="9" height="9" fill="#000"/><rect x="606.40" y="527.20" width="2.8" height="2.8" fill="#fff"/>
<polyline points="430.00,551.05 466.30,551.05" fill="none" stroke="#787878" stroke-width="1.2"/>
<polyline points="568.20,551.05 604.00,551.05" fill="none" stroke="#787878" stroke-width="1.2"/>
<rect x="466.3" y="547.7" width="101.9" height="6.70" rx="1.6" fill="#fff" stroke="#787878" stroke-width="1.3"/>
<rect x="421.70" y="543.30" width="9" height="9" fill="#000"/><rect x="424.80" y="546.40" width="2.8" height="2.8" fill="#fff"/>
<rect x="603.30" y="543.30" width="9" height="9" fill="#000"/><rect x="606.40" y="546.40" width="2.8" height="2.8" fill="#fff"/>
<path d="M588.0,547.4 H596.4 M592.2,543.1999999999999 V551.5999999999999" stroke="#7c7c7c" stroke-width="1.5" fill="none"/>
<text x="447.5" y="484.0" font-size="17.6" text-anchor="start" fill="#2a2a2a" stroke="#2a2a2a" stroke-width="0.4" textLength="138.75" lengthAdjust="spacingAndGlyphs">AC 35/6.2 19 км</text>
<circle cx="641.90" cy="509.50" r="3.6" fill="#000"/>
<circle cx="670.60" cy="528.60" r="3.6" fill="#000"/>
<circle cx="699.30" cy="547.80" r="3.6" fill="#000"/>
<polyline points="210.00,672.20 259.00,672.20" fill="none" stroke="#787878" stroke-width="1.35"/>
<polyline points="210.00,700.80 259.00,700.80" fill="none" stroke="#787878" stroke-width="1.35"/>
<polyline points="210.00,729.40 259.00,729.40" fill="none" stroke="#787878" stroke-width="1.35"/>
<polyline points="353.00,691.00 422.00,691.00" fill="none" stroke="#787878" stroke-width="1.35"/>
<polyline points="353.00,710.30 422.00,710.30" fill="none" stroke="#787878" stroke-width="1.35"/>
<polyline points="353.00,729.40 422.00,729.40" fill="none" stroke="#787878" stroke-width="1.35"/>
<rect x="76.75" y="651.2" width="124.65" height="98.40" fill="#fff" stroke="#444448" stroke-width="1.5" filter="url(#sh)"/>
<rect x="201.40" y="667.70" width="9" height="9" fill="#000"/><rect x="204.50" y="670.80" width="2.8" height="2.8" fill="#fff"/>
<rect x="201.40" y="696.30" width="9" height="9" fill="#000"/><rect x="204.50" y="699.40" width="2.8" height="2.8" fill="#fff"/>
<rect x="201.40" y="724.90" width="9" height="9" fill="#000"/><rect x="204.50" y="728.00" width="2.8" height="2.8" fill="#fff"/>
<text x="195.8" y="677.7" font-size="19.3" text-anchor="end" fill="#2a2a2a" stroke="#2a2a2a" stroke-width="0.4">A</text>
<text x="195.8" y="705.6" font-size="19.3" text-anchor="end" fill="#2a2a2a" stroke="#2a2a2a" stroke-width="0.4">B</text>
<text x="195.8" y="734.0" font-size="19.3" text-anchor="end" fill="#2a2a2a" stroke="#2a2a2a" stroke-width="0.4">C</text>
<path d="M100.2,702.2 H104.5 C107,702.2 106.5,688.6 109.8,688.6 L131.5,688.6 C134.6,688.6 134,702.2 136.2,702.2 L149.5,702.2" fill="none" stroke="#787878" stroke-width="1.3"/>
<ellipse cx="114.4" cy="699.3" rx="2.3" ry="10.6" fill="none" stroke="#787878" stroke-width="1.3"/>
<ellipse cx="120.8" cy="699.3" rx="2.3" ry="10.6" fill="none" stroke="#787878" stroke-width="1.3"/>
<ellipse cx="128" cy="699.3" rx="2.3" ry="10.6" fill="none" stroke="#787878" stroke-width="1.3"/>
<polyline points="149.50,702.20 152.20,713.00 155.60,688.60 160.30,713.00 164.30,688.60 169.40,713.00 173.90,688.60 176.20,702.20 183.60,702.20" fill="none" stroke="#787878" stroke-width="1.3"/>
<text x="72.5" y="642.0" font-size="17.6" text-anchor="start" fill="#2a2a2a" stroke="#2a2a2a" stroke-width="0.4" textLength="132.5" lengthAdjust="spacingAndGlyphs">Потребитель 3</text>
<polyline points="346.00,672.40 354.25,672.40 354.25,629.00" fill="none" stroke="#787878" stroke-width="1.35"/>
<polyline points="357.00,624.50 866.00,624.50" fill="none" stroke="#787878" stroke-width="1.35"/>
<rect x="268.3" y="660.6" width="77.20" height="80.00" fill="url(#g3i0)" stroke="#444448" stroke-width="1.5" filter="url(#sh)"/>
<rect x="259.20" y="667.70" width="9" height="9" fill="#000"/><rect x="262.30" y="670.80" width="2.8" height="2.8" fill="#fff"/>
<text x="274.5" y="677.4000000000001" font-size="15.6" text-anchor="start" fill="#2a2a2a" stroke="#2a2a2a" stroke-width="0.4" textLength="21.6" lengthAdjust="spacingAndGlyphs">A+</text>
<rect x="259.20" y="696.30" width="9" height="9" fill="#000"/><rect x="262.30" y="699.40" width="2.8" height="2.8" fill="#fff"/>
<text x="274.5" y="706.0" font-size="15.6" text-anchor="start" fill="#2a2a2a" stroke="#2a2a2a" stroke-width="0.4" textLength="21.6" lengthAdjust="spacingAndGlyphs">B+</text>
<rect x="259.20" y="724.90" width="9" height="9" fill="#000"/><rect x="262.30" y="728.00" width="2.8" height="2.8" fill="#fff"/>
<text x="274.5" y="734.6" font-size="15.6" text-anchor="start" fill="#2a2a2a" stroke="#2a2a2a" stroke-width="0.4" textLength="21.6" lengthAdjust="spacingAndGlyphs">C+</text>
<text x="303.7" y="677.4000000000001" font-size="15.6" text-anchor="start" fill="#2a2a2a" stroke="#2a2a2a" stroke-width="0.4" textLength="35.2" lengthAdjust="spacingAndGlyphs">Sum</text>
<rect x="345.30" y="686.50" width="9" height="9" fill="#000"/><rect x="348.40" y="689.60" width="2.8" height="2.8" fill="#fff"/>
<text x="339.1" y="696.0" font-size="15.6" text-anchor="end" fill="#2a2a2a" stroke="#2a2a2a" stroke-width="0.4" textLength="17.5" lengthAdjust="spacingAndGlyphs">A-</text>
<rect x="345.30" y="705.80" width="9" height="9" fill="#000"/><rect x="348.40" y="708.90" width="2.8" height="2.8" fill="#fff"/>
<text x="339.1" y="715.3" font-size="15.6" text-anchor="end" fill="#2a2a2a" stroke="#2a2a2a" stroke-width="0.4" textLength="17.5" lengthAdjust="spacingAndGlyphs">B-</text>
<rect x="345.30" y="724.90" width="9" height="9" fill="#000"/><rect x="348.40" y="728.00" width="2.8" height="2.8" fill="#fff"/>
<text x="339.1" y="734.4" font-size="15.6" text-anchor="end" fill="#2a2a2a" stroke="#2a2a2a" stroke-width="0.4" textLength="17.5" lengthAdjust="spacingAndGlyphs">C-</text>
<text x="257" y="762.0" font-size="17.6" text-anchor="start" fill="#2a2a2a" stroke="#2a2a2a" stroke-width="0.4" textLength="96.75" lengthAdjust="spacingAndGlyphs">3i0потреб3</text>
<circle cx="354.25" cy="643.80" r="3.6" fill="#000"/>
<polygon points="354.25,617 347.0,630.5 361.5,630.5" fill="#000"/>
<rect x="337" y="595.5" width="35.00" height="19.80" fill="#fff" stroke="#444448" stroke-width="1.7" filter="url(#sh)"/>
<rect x="342" y="599" width="25.00" height="8.60" rx="2" fill="#fff" stroke="#3a3a3a" stroke-width="1.9"/>
<polyline points="430.00,687.40 466.30,687.40" fill="none" stroke="#787878" stroke-width="1.2"/>
<polyline points="568.20,687.40 604.00,687.40" fill="none" stroke="#787878" stroke-width="1.2"/>
<rect x="466.3" y="684.4" width="101.9" height="6.00" rx="1.6" fill="#fff" stroke="#787878" stroke-width="1.3"/>
<rect x="421.70" y="686.50" width="9" height="9" fill="#000"/><rect x="424.80" y="689.60" width="2.8" height="2.8" fill="#fff"/>
<rect x="603.30" y="686.50" width="9" height="9" fill="#000"/><rect x="606.40" y="689.60" width="2.8" height="2.8" fill="#fff"/>
<polyline points="430.00,709.95 466.30,709.95" fill="none" stroke="#787878" stroke-width="1.2"/>
<polyline points="568.20,709.95 604.00,709.95" fill="none" stroke="#787878" stroke-width="1.2"/>
<rect x="466.3" y="706.9" width="101.9" height="6.10" rx="1.6" fill="#fff" stroke="#787878" stroke-width="1.3"/>
<rect x="421.70" y="705.80" width="9" height="9" fill="#000"/><rect x="424.80" y="708.90" width="2.8" height="2.8" fill="#fff"/>
<rect x="603.30" y="705.80" width="9" height="9" fill="#000"/><rect x="606.40" y="708.90" width="2.8" height="2.8" fill="#fff"/>
<polyline points="430.00,732.90 466.30,732.90" fill="none" stroke="#787878" stroke-width="1.2"/>
<polyline points="568.20,732.90 604.00,732.90" fill="none" stroke="#787878" stroke-width="1.2"/>
<rect x="466.3" y="729.6" width="101.9" height="6.60" rx="1.6" fill="#fff" stroke="#787878" stroke-width="1.3"/>
<rect x="421.70" y="724.90" width="9" height="9" fill="#000"/><rect x="424.80" y="728.00" width="2.8" height="2.8" fill="#fff"/>
<rect x="603.30" y="724.90" width="9" height="9" fill="#000"/><rect x="606.40" y="728.00" width="2.8" height="2.8" fill="#fff"/>
<path d="M588.0,729.0 H596.4 M592.2,724.8 V733.1999999999999" stroke="#7c7c7c" stroke-width="1.5" fill="none"/>
<text x="447.5" y="665.8" font-size="17.6" text-anchor="start" fill="#2a2a2a" stroke="#2a2a2a" stroke-width="0.4" textLength="138.75" lengthAdjust="spacingAndGlyphs">AC 35/6.2 17 км</text>
<rect x="720" y="250.5" width="16.20" height="58.70" fill="#fff" stroke="#444448" stroke-width="1.7" filter="url(#sh)"/>
<rect x="722.6" y="258" width="11.00" height="25" rx="2" fill="#fff" stroke="#3a3a3a" stroke-width="1.9"/>
<rect x="748.7" y="250.5" width="16.30" height="58.70" fill="#fff" stroke="#444448" stroke-width="1.7" filter="url(#sh)"/>
<rect x="751.3000000000001" y="258" width="11.10" height="25" rx="2" fill="#fff" stroke="#3a3a3a" stroke-width="1.9"/>
<polyline points="718.00,279.20 768.00,279.20" fill="none" stroke="#8a8a8a" stroke-width="1.0"/>
<rect x="881.4" y="189.6" width="134.20" height="524.40" fill="url(#gwav)" stroke="#66676b" stroke-width="2.1" filter="url(#sh)"/>
<g stroke="#cacaca" stroke-width="0.8" fill="#f0f0f0" opacity="0.75"><path d="M897,417.5 H957" fill="none"/><rect x="910" y="413.9" width="7.2" height="7.2"/><rect x="933.6" y="412.9" width="9" height="9.2"/><ellipse cx="896.5" cy="417.5" rx="2.6" ry="1.6"/><path d="M897,430.7 H957" fill="none"/><rect x="910" y="427.09999999999997" width="7.2" height="7.2"/><rect x="933.6" y="426.09999999999997" width="9" height="9.2"/><ellipse cx="896.5" cy="430.7" rx="2.6" ry="1.6"/><path d="M897,444 H957" fill="none"/><rect x="910" y="440.4" width="7.2" height="7.2"/><rect x="933.6" y="439.4" width="9" height="9.2"/><path d="M897,458 H957" fill="none"/><rect x="910" y="454.4" width="7.2" height="7.2"/><rect x="933.6" y="453.4" width="9" height="9.2"/><path d="M897,471.3 H957" fill="none"/><rect x="910" y="467.7" width="7.2" height="7.2"/><rect x="933.6" y="466.7" width="9" height="9.2"/><path d="M897,485 H957" fill="none"/><rect x="910" y="481.4" width="7.2" height="7.2"/><rect x="933.6" y="480.4" width="9" height="9.2"/><path d="M976,421.5 H996" fill="none"/><path d="M976,433.5 H996" fill="none"/><path d="M976,446 H996" fill="none"/><path d="M976,469 H996" fill="none"/><path d="M976,481 H996" fill="none"/><ellipse cx="998" cy="421.5" rx="2.8" ry="1.7"/><ellipse cx="998" cy="433.5" rx="2.8" ry="1.7"/><rect x="957.9" y="415.4" width="18.2" height="70.6"/></g>
<polygon points="880.4,279.2 866.9,271.95 866.9,286.45" fill="#000"/>
<text x="887" y="284.5" font-size="15.8" text-anchor="start" fill="#2a2a2a" stroke="#2a2a2a" stroke-width="0.4" textLength="26.2" lengthAdjust="spacingAndGlyphs">L_1</text>
<text x="1006.6" y="284.5" font-size="15.8" text-anchor="end" fill="#2a2a2a" stroke="#2a2a2a" stroke-width="0.4" textLength="71.4" lengthAdjust="spacingAndGlyphs">ESpect_1</text>
<polyline points="1015.8,268.0 1026.6,279.4 1015.8,289.8" fill="none" stroke="#000" stroke-width="2.9" stroke-linejoin="miter"/>
<circle cx="1038.2" cy="272.2" r="2.6" fill="#b6b6b6"/><path d="M1032.6,265.6 Q1038.2,261.6 1043.8,265.6" fill="none" stroke="#c6c6c6" stroke-width="1.5"/><path d="M1029.2,261.0 Q1038.2,254.8 1047.4,261.0" fill="none" stroke="#cdcdcd" stroke-width="1.5"/>
<polygon points="880.4,451.6 866.9,444.35 866.9,458.85" fill="#000"/>
<text x="887" y="456.90000000000003" font-size="15.8" text-anchor="start" fill="#2a2a2a" stroke="#2a2a2a" stroke-width="0.4" textLength="27.6" lengthAdjust="spacingAndGlyphs">L_2</text>
<text x="1008.8" y="456.90000000000003" font-size="15.8" text-anchor="end" fill="#2a2a2a" stroke="#2a2a2a" stroke-width="0.4" textLength="73.6" lengthAdjust="spacingAndGlyphs">ESpect_2</text>
<polyline points="1015.8,440.4 1026.6,451.8 1015.8,462.2" fill="none" stroke="#000" stroke-width="2.9" stroke-linejoin="miter"/>
<circle cx="1038.2" cy="444.6" r="2.6" fill="#b6b6b6"/><path d="M1032.6,438.0 Q1038.2,434.0 1043.8,438.0" fill="none" stroke="#c6c6c6" stroke-width="1.5"/><path d="M1029.2,433.4 Q1038.2,427.2 1047.4,433.4" fill="none" stroke="#cdcdcd" stroke-width="1.5"/>
<polygon points="880.4,623.8 866.9,616.55 866.9,631.05" fill="#000"/>
<text x="887" y="629.0999999999999" font-size="15.8" text-anchor="start" fill="#2a2a2a" stroke="#2a2a2a" stroke-width="0.4" textLength="27.6" lengthAdjust="spacingAndGlyphs">L_3</text>
<text x="1008.8" y="629.0999999999999" font-size="15.8" text-anchor="end" fill="#2a2a2a" stroke="#2a2a2a" stroke-width="0.4" textLength="73.6" lengthAdjust="spacingAndGlyphs">ESpect_3</text>
<polyline points="1015.8,612.6 1026.6,624.0 1015.8,634.4" fill="none" stroke="#000" stroke-width="2.9" stroke-linejoin="miter"/>
<circle cx="1038.2" cy="616.8" r="2.6" fill="#b6b6b6"/><path d="M1032.6,610.2 Q1038.2,606.2 1043.8,610.2" fill="none" stroke="#c6c6c6" stroke-width="1.5"/><path d="M1029.2,605.6 Q1038.2,599.4 1047.4,605.6" fill="none" stroke="#cdcdcd" stroke-width="1.5"/>
<text x="948" y="734.8" font-size="17.6" text-anchor="middle" fill="#2a2a2a" stroke="#2a2a2a" stroke-width="0.4" textLength="64" lengthAdjust="spacingAndGlyphs">wavelet</text>
</g></svg></body></html>
